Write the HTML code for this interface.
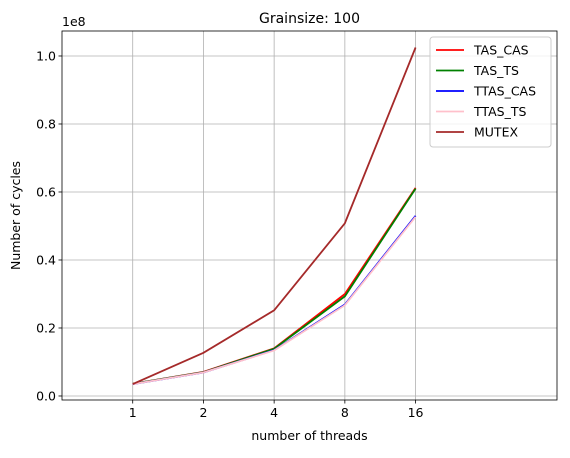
<!DOCTYPE html>
<html><head><meta charset="utf-8"><style>
body{margin:0;background:#fff;}
svg{font-family:"DejaVu Sans","Liberation Sans",sans-serif;}
</style></head><body>
<svg id="chart" width="570" height="453" xmlns="http://www.w3.org/2000/svg"></svg>
<script>
const categories = ["1","2","4","8","16"];
const yTicks = [0.0,0.2,0.4,0.6,0.8,1.0];
const seriesNames = ["TAS_CAS","TAS_TS","TTAS_CAS","TTAS_TS","MUTEX"];
const seriesColors = ["red","green","blue","pink","brown"];
const tasCas = [0.036,0.071,0.140,0.300,0.612];
const tasTs = [0.036,0.070,0.139,0.293,0.610];
const ttasCas = [0.035,0.069,0.135,0.269,0.530];
const ttasTs = [0.035,0.069,0.134,0.267,0.527];
const mutex = [0.035,0.127,0.252,0.508,1.025];
const allSeries = [tasCas,tasTs,ttasCas,ttasTs,mutex];

const NS="http://www.w3.org/2000/svg";
const svg=document.getElementById('chart');
const L=62,R=557,T=31,B=400;
const xMin=-1,xMax=6,yMin=-0.0118,yMax=1.0735;
const xs=i=>L+(i-xMin)/(xMax-xMin)*(R-L);
const ys=v=>B-(v-yMin)/(yMax-yMin)*(B-T);
function mk(tag,attrs,parent){const e=document.createElementNS(NS,tag);for(const k in attrs)e.setAttribute(k,attrs[k]);(parent||svg).appendChild(e);return e;}

const grid=mk('g',{});


categories.forEach((c,i)=>{
  const x=xs(i);
  mk('line',{x1:x,x2:x,y1:T,y2:B,stroke:'#b0b0b0','stroke-width':0.8},grid);
  mk('line',{x1:x,x2:x,y1:B,y2:B+3.5,stroke:'#000','stroke-width':0.8},grid);
  const t=mk('text',{x:x,y:B+17,'text-anchor':'middle','font-size':12.5});
  t.textContent=c;
  
  
});
yTicks.forEach(v=>{
  const y=ys(v);
  mk('line',{x1:L,x2:R,y1:y,y2:y,stroke:'#b0b0b0','stroke-width':0.8},grid);
  mk('line',{x1:L-3.5,x2:L,y1:y,y2:y,stroke:'#000','stroke-width':0.8},grid);
  const t=mk('text',{x:L-6,y:y+4.5,'text-anchor':'end','font-size':12.5});
  t.textContent=v.toFixed(1);
  
  
});
allSeries.forEach((s,k)=>{
  const p=mk('polyline',{points:s.map((v,i)=>xs(i)+','+ys(v)).join(' '),fill:'none',stroke:seriesColors[k],'stroke-width':1.8});
  
  
});
const frame=mk('rect',{x:L,y:T,width:R-L,height:B-T,fill:'none',stroke:'#000','stroke-width':0.8});



const title=mk('text',{x:(L+R)/2,y:23,'text-anchor':'middle','font-size':14});
title.textContent='Grainsize: 100';


const xl=mk('text',{x:(L+R)/2,y:440,'text-anchor':'middle','font-size':12.5});
xl.textContent='number of threads';


const yl=mk('text',{x:20,y:(T+B)/2,'text-anchor':'middle','font-size':12.5,transform:'rotate(-90 20 '+((T+B)/2)+')'});
yl.textContent='Number of cycles';


const off=mk('text',{x:L,y:26,'font-size':12.5});
off.textContent='1e8';



const lg=mk('g',{});


mk('rect',{x:430,y:37,width:121,height:110,rx:3,fill:'#fff','fill-opacity':0.8,stroke:'#ccc'},lg);
seriesNames.forEach((n,k)=>{
  const y=50+k*20.5;
  mk('line',{x1:436,x2:464,y1:y,y2:y,stroke:seriesColors[k],'stroke-width':1.8},lg);
  const t=mk('text',{x:474,y:y+4.5,'font-size':12.5},lg);
  t.textContent=n;
  
  
});
</script>
</body></html>
